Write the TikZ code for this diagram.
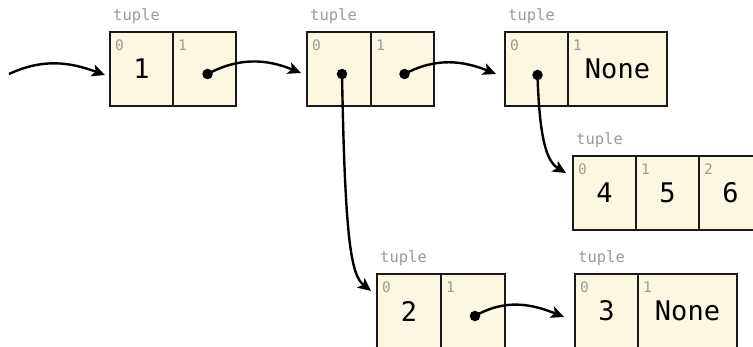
\documentclass[tikz,border=0pt]{standalone}
\usepackage{fontspec}
\setmonofont{DejaVu Sans Mono}
\usetikzlibrary{arrows.meta,calc}
\definecolor{cream}{HTML}{FCF7E1}
\definecolor{lbl}{HTML}{9A9A9A}
\tikzset{
  cell/.style={draw=black!90, line width=1.4pt, fill=cream, minimum width=#1,
    minimum height=74pt, inner sep=0pt, outer sep=0pt, anchor=north west,
    font=\ttfamily\fontsize{27}{30}\selectfont},
  cell/.default=63pt,
  idx/.style={anchor=north west, xshift=5pt, yshift=-8pt, inner sep=0pt,
    text=lbl, font=\ttfamily\fontsize{14.5}{14.5}\selectfont},
  tup/.style={anchor=base west, xshift=3pt, yshift=11pt, inner sep=0pt,
    text=lbl, font=\ttfamily\fontsize{15.5}{15.5}\selectfont},
  dot/.style={circle, fill=black, inner sep=0pt, minimum size=10.5pt},
  ptr/.style={line width=2.4pt, -{Stealth[length=13pt,width=12pt,inset=3pt]}}
}
\begin{document}
\begin{tikzpicture}[x=1pt,y=1pt]
\useasboundingbox (0,0) rectangle (753,-347);
% tuple 1
\node[cell, label={[tup]north west:tuple}, label={[idx]north west:0}] (t1a) at (110,-32) {1};
\node[cell, label={[idx]north west:1}] (t1b) at (173,-32) {};
% tuple 2
\node[cell=64pt, label={[tup]north west:tuple}, label={[idx]north west:0}] (t2a) at (307,-32) {};
\node[cell, label={[idx]north west:1}] (t2b) at (371,-32) {};
% tuple 3
\node[cell, label={[tup]north west:tuple}, label={[idx]north west:0}] (t3a) at (505,-32) {};
\node[cell=99pt, label={[idx]north west:1}] (t3b) at (568,-32) {None};
% tuple 4
\node[cell, label={[tup]north west:tuple}, label={[idx]north west:0}] (t4a) at (573,-156) {4};
\node[cell, label={[idx]north west:1}] (t4b) at (636,-156) {5};
\node[cell, label={[idx]north west:2}] (t4c) at (699,-156) {6};
% tuple 5
\node[cell=64pt, label={[tup]north west:tuple}, label={[idx]north west:0}] (t5a) at (377,-274) {2};
\node[cell=64pt, label={[idx]north west:1}] (t5b) at (441,-274) {};
% tuple 6
\node[cell, label={[tup]north west:tuple}, label={[idx]north west:0}] (t6a) at (575,-274) {3};
\node[cell=99pt, label={[idx]north west:1}] (t6b) at (638,-274) {None};
% pointer dots
\node[dot] (p1) at ($(t1b.center)+(3,-5)$) {};
\node[dot] (p2) at ($(t2a.center)+(3,-5)$) {};
\node[dot] (p3) at ($(t2b.center)+(2,-5)$) {};
\node[dot] (p4) at ($(t3a.center)+(1,-6)$) {};
\node[dot] (p5) at ($(t5b.center)+(2,-5)$) {};
% arrow ends
\coordinate (s0) at (9,-74);
\coordinate (e1) at ($(t1a.west)+(-5,-6)$);
\coordinate (e2) at ($(t2a.west)+(-6,-4)$);
\coordinate (e3) at ($(t3a.west)+(-9,-5)$);
\coordinate (e5) at ($(t5a.west)+(-6,20)$);
\coordinate (e4) at ($(t4a.west)+(-7,20)$);
\coordinate (e6) at ($(t6a.west)+(-11,-6)$);
% arrows
\draw[ptr] (s0) to[out=25,in=160] (e1);
\draw[ptr] (p1.center) to[out=28,in=158] (e2);
\draw[ptr] (p3.center) to[out=28,in=158] (e3);
\draw[ptr] (p5.center) to[out=30,in=158] (e6);
\draw[ptr] (p2.center) .. controls +(3,-166) and +(-20,16) .. (e5);
\draw[ptr] (p4.center) .. controls +(2,-62) and +(-20,12) .. (e4);
\end{tikzpicture}
\end{document}
